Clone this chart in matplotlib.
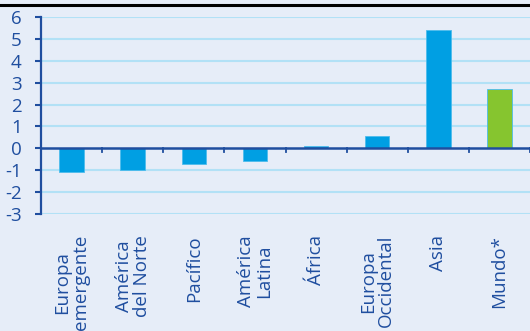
import numpy as np
import matplotlib.pyplot as plt
from matplotlib.lines import Line2D

regions = ['Europa\nemergente', 'América\ndel Norte', 'Pacífico', 'América\nLatina',
           'África', 'Europa\nOccidental', 'Asia', 'Mundo*']
values = [-1.08, -1.0, -0.73, -0.56, 0.1, 0.55, 5.4, 2.7]
bar_colors = ['#009fe3'] * 7 + ['#86c52f']
y_ticks = [-3, -2, -1, 0, 1, 2, 3, 4, 5, 6]

bg = '#e6edf8'
dark = '#1f4e9f'
grid = '#b2e1f6'

plt.rcParams['font.family'] = ['Open Sans', 'DejaVu Sans']

fig = plt.figure(figsize=(5.3, 3.31), dpi=100, facecolor=bg)
ax = fig.add_axes([41 / 530, 1 - 214 / 331, 489 / 530, 197 / 331])
ax.set_facecolor(bg)

x = np.arange(len(regions)) + 0.5
ax.bar(x, values, width=0.4, color=bar_colors, edgecolor='#4dbcec', linewidth=0.6, zorder=3)

ax.set_xlim(0, len(regions))
ax.set_ylim(-3, 6)
ax.set_yticks(y_ticks)
ax.set_yticklabels([str(v) for v in y_ticks])
for v in y_ticks:
    if v != 0:
        ax.axhline(v, color=grid, lw=1.5, zorder=1)

for s in ['top', 'right', 'bottom']:
    ax.spines[s].set_visible(False)
ax.spines['left'].set_color(dark)
ax.spines['left'].set_linewidth(1.6)
ax.axhline(0, color=dark, lw=1.8, zorder=4)

ax.tick_params(axis='y', colors=dark, labelsize=13.5, length=4, width=1.5, pad=10)
ax.set_xticks([])

# small separator ticks along the zero line
for b in range(len(regions) + 1):
    ax.add_line(Line2D([b, b], [0, -0.18], color=dark, lw=1.3, zorder=4))

for xi, lab in zip(x, regions):
    ax.text(xi, -0.107, lab, transform=ax.get_xaxis_transform(), rotation=90,
            ha='center', va='top', multialignment='center', fontsize=13.5,
            color=dark, linespacing=1.0)

fig.add_artist(Line2D([0, 1], [1 - 4.5 / 331, 1 - 4.5 / 331], color='black', lw=2.2))

fig.savefig('out.png', dpi=100, facecolor=bg)
